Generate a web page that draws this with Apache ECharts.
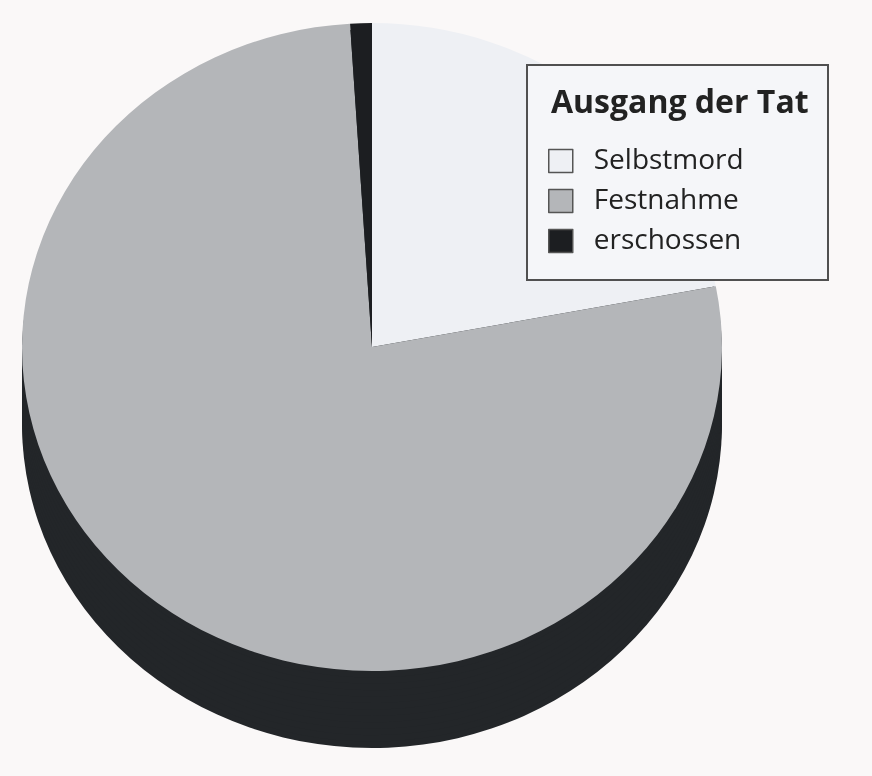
<!DOCTYPE html>
<html>
<head>
<meta charset="utf-8">
<script src="https://cdn.jsdelivr.net/npm/echarts@6/dist/echarts.min.js"></script>
<style>
  html, body { margin: 0; padding: 0; background: #faf8f8; }
  #wrap { position: relative; width: 872px; height: 776px; overflow: hidden; }
  #pie { position: absolute; left: 0; top: 0; width: 872px; transform-origin: 0 0; }
  #leg { position: absolute; left: 0; top: 0; width: 872px; height: 776px; pointer-events: none; }
</style>
</head>
<body>
<div id="wrap"><div id="pie"></div><div id="leg"></div></div>
<script>
// ---- data ----
const legendTitle = 'Ausgang der Tat';
const categories = ['Selbstmord', 'Festnahme', 'erschossen'];
const values = [22, 77, 1];

// ---- styles ----
const sliceColors = ['#eef0f4', '#b4b6b9', '#1c1e21'];
const sideColor = '#232629';
const FONT = '"Open Sans", "DejaVu Sans", sans-serif';

// pie top face is an ellipse: rx 350, ry 324 -> vertical squash
const SY = 324 / 350;
const W = 872, H = 776;
const pieDiv = document.getElementById('pie');
pieDiv.style.height = (H / SY) + 'px';
pieDiv.style.transform = 'scaleY(' + SY + ')';

const cx = 372, cy = 347 / SY, R = 350;
const depth = 77 / SY;

const pieData = categories.map((c, i) => ({ name: c, value: values[i], itemStyle: { color: sliceColors[i] } }));

const series = [];
const steps = 12;
for (let k = steps; k >= 1; k--) {
  series.push({
    type: 'pie', silent: true, startAngle: 90, clockwise: true,
    center: [cx, cy + depth * k / steps], radius: [0, R],
    data: categories.map((c, i) => ({ name: c, value: values[i] })),
    itemStyle: { color: sideColor, borderWidth: 0 },
    label: { show: false }, labelLine: { show: false },
    emphasis: { disabled: true }, z: 1
  });
}
series.push({
  type: 'pie', silent: true, startAngle: 90, clockwise: true,
  center: [cx, cy], radius: [0, R],
  data: pieData,
  itemStyle: { borderWidth: 0 },
  label: { show: false }, labelLine: { show: false },
  emphasis: { disabled: true }, z: 5
});

const chartA = echarts.init(pieDiv, null, { renderer: 'svg' });
chartA.setOption({ animation: false, backgroundColor: 'transparent', series: series });

const chartB = echarts.init(document.getElementById('leg'));
chartB.setOption({
  animation: false,
  backgroundColor: 'transparent',
  graphic: [{
    type: 'rect', z: 0,
    shape: { x: 527, y: 65, width: 301, height: 215 },
    style: { fill: '#f5f6f9', stroke: '#505050', lineWidth: 2 }
  }],
  title: {
    text: legendTitle, left: 551, top: 88, padding: 0,
    textStyle: { fontFamily: FONT, fontWeight: 'bold', fontSize: 32, color: '#222' }
  },
  legend: {
    orient: 'vertical', left: 548, top: 147, padding: 0,
    icon: 'rect', itemWidth: 24, itemHeight: 23, itemGap: 12,
    itemStyle: { borderColor: '#555', borderWidth: 1.5 },
    textStyle: { fontFamily: FONT, fontSize: 28, lineHeight: 28, color: '#222', padding: [0, 0, 0, 16] },
    data: categories
  },
  series: [{
    type: 'pie', silent: true, center: [-1000, -1000], radius: [0, 5],
    data: pieData, label: { show: false }, labelLine: { show: false }
  }]
});
</script>
</body>
</html>
